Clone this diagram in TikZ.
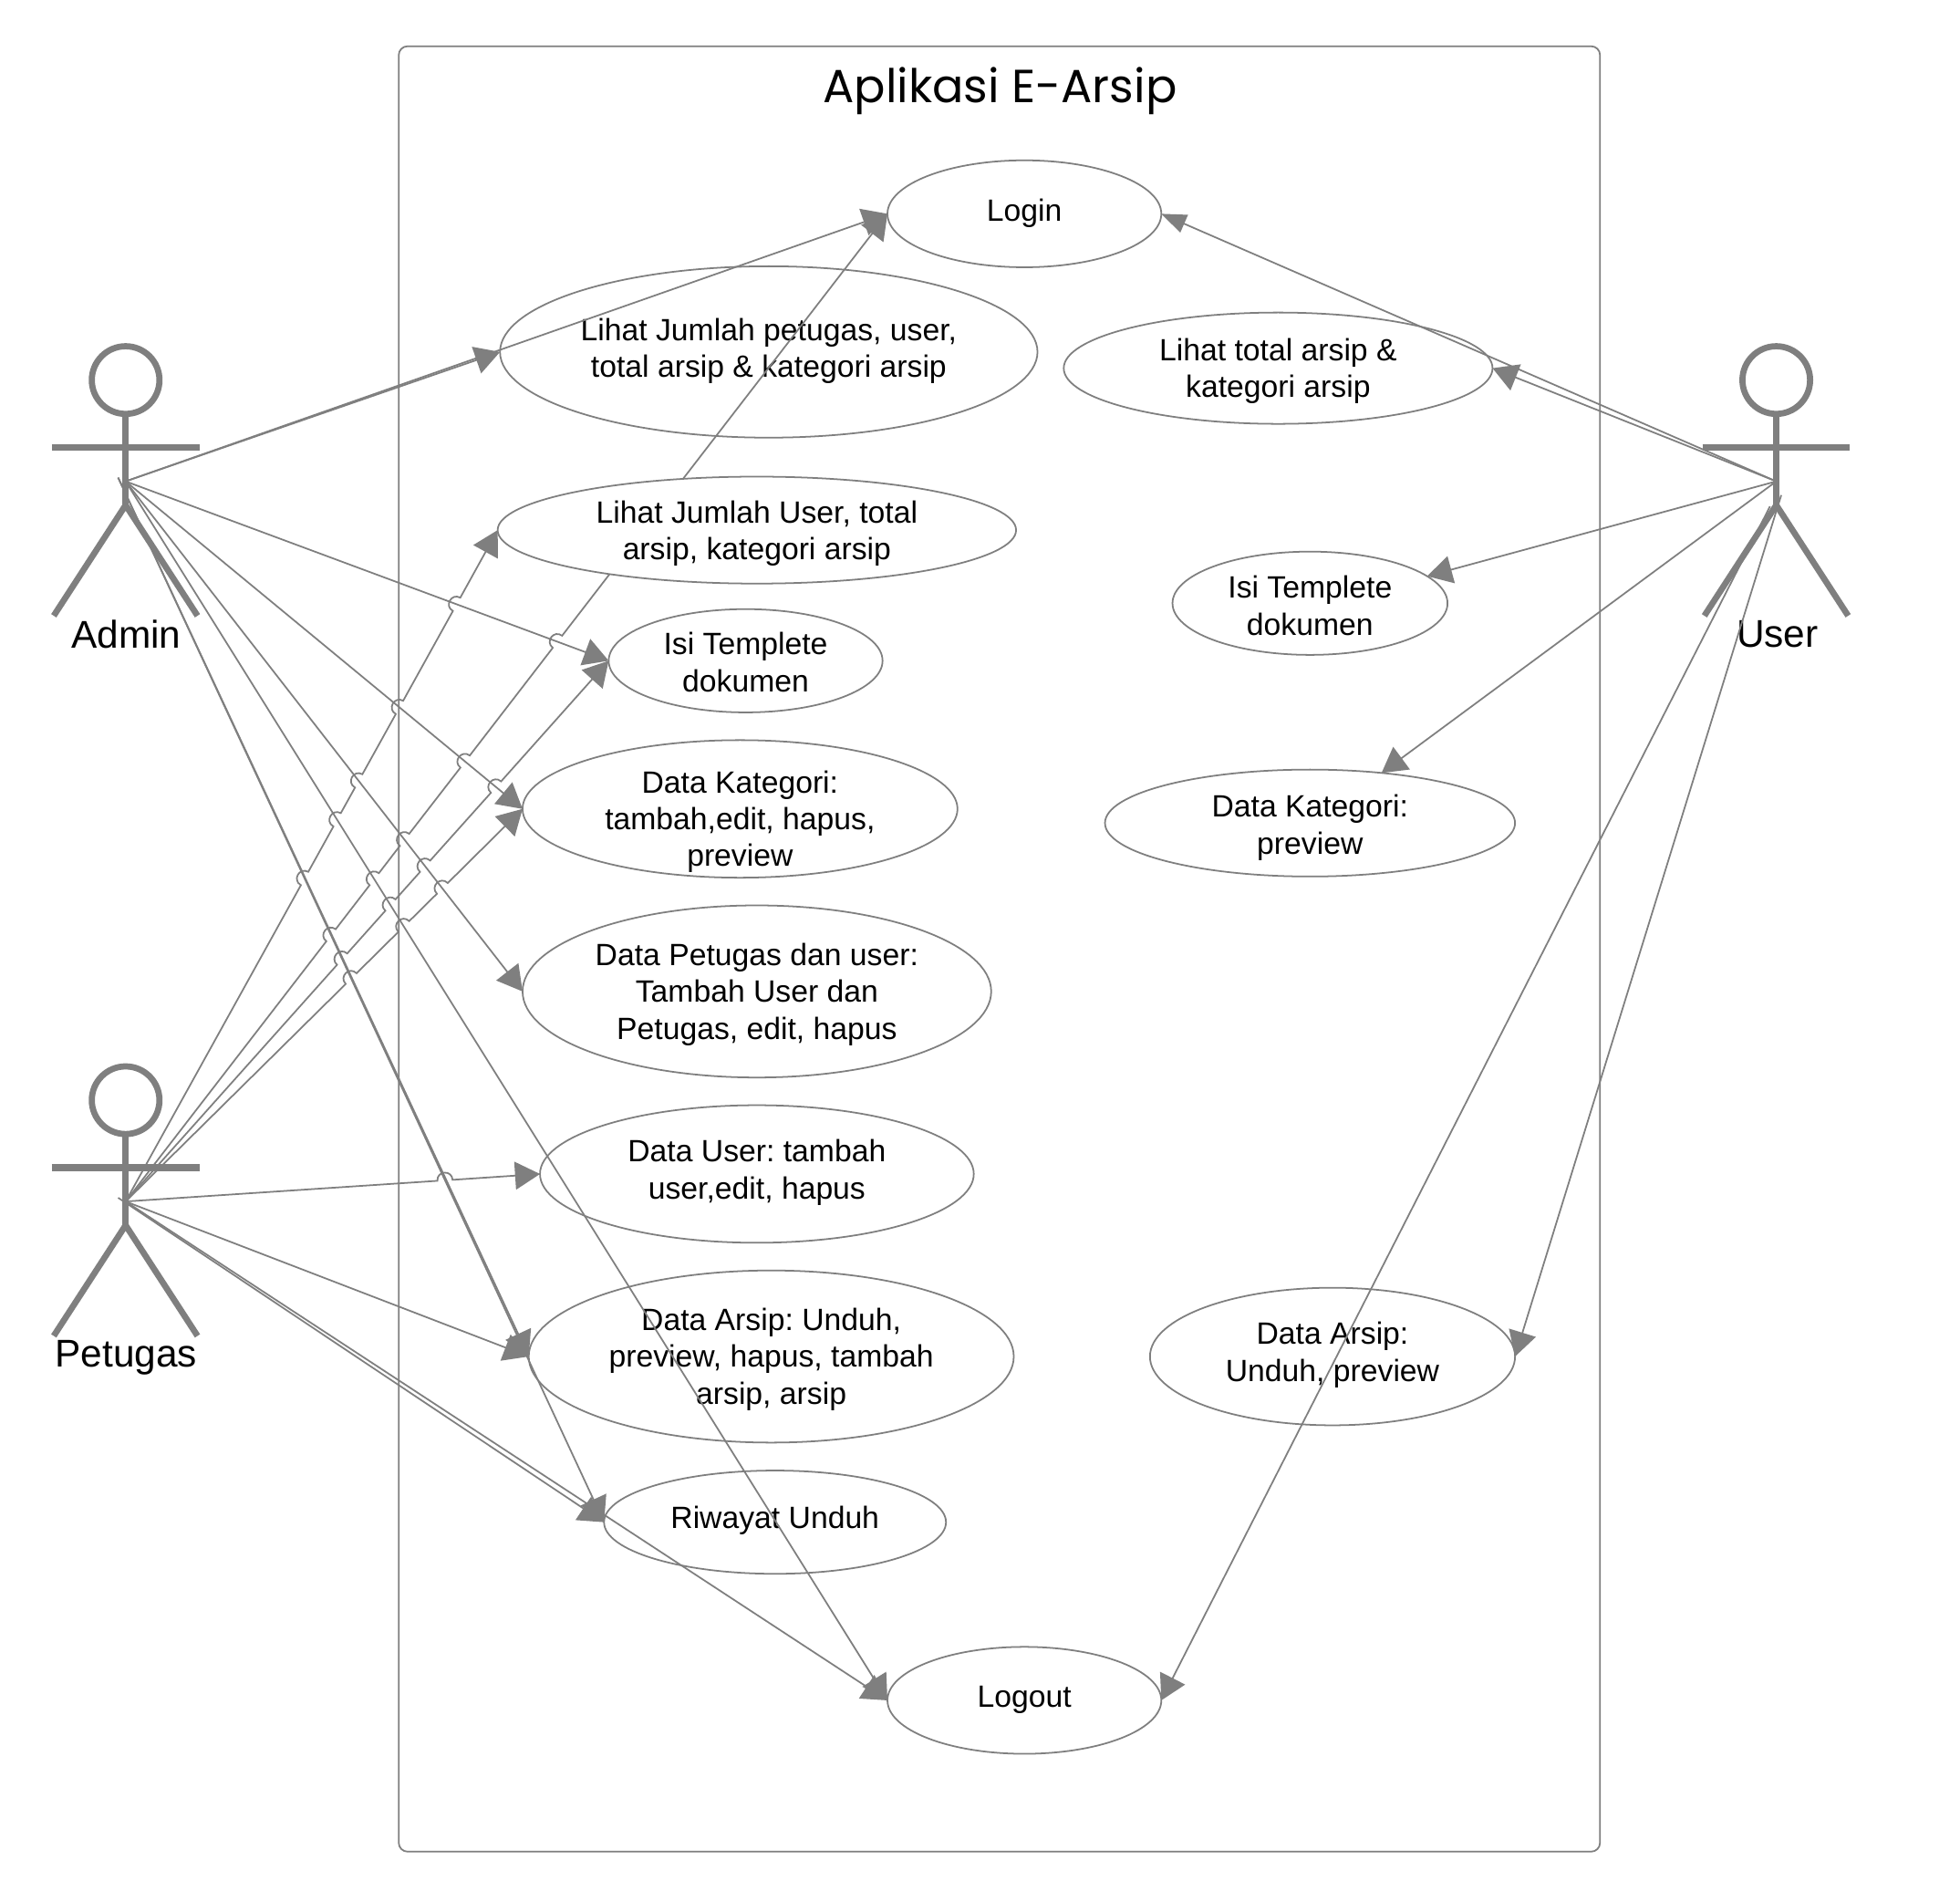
\documentclass[tikz,border=0pt]{standalone}
\usepackage{fontspec}
\setmainfont{Liberation Sans}
\newfontfamily\titlefont{Poppins}
\usetikzlibrary{arrows.meta,shapes.geometric,calc}
\pgfdeclarelayer{top}
\pgfsetlayers{main,top}
\definecolor{linegray}{HTML}{7F7F7F}
\newlength\unitpx
\setlength\unitpx{0.8536pt}
\newcommand\uctext[2]{\makebox[0pt]{\raisebox{\dimexpr #1\unitpx-7.5pt\relax}[0pt][0pt]{\fontsize{21pt}{25.2pt}\selectfont\frenchspacing\begin{tabular}{@{}c@{}}#2\end{tabular}}}}
% jump-over geometry: #1 name, #2 start, #3 end, #4 other start, #5 other end
\newcommand\xing[5]{%
  \coordinate (#1) at (intersection cs: first line={(#2)--(#3)}, second line={(#4)--(#5)});
  \coordinate (#1-a) at ($(#1)!5.2pt!(#2)$);
  \coordinate (#1-b) at ($(#1)!-5.2pt!(#2)$);
  \coordinate (#1-ca) at ($(#1-a)!7pt!90:(#1)$);
  \coordinate (#1-cb) at ($(#1-b)!7pt!-90:(#1)$);
}
\newcommand\jmp[1]{-- (#1-a) .. controls (#1-ca) and (#1-cb) .. (#1-b)}
\tikzset{
  x=0.03cm,y=-0.03cm,
  conn/.style={draw=linegray,line width=1.1pt,-{Triangle[length=17pt,width=19pt]}},
  connn/.style={draw=linegray,line width=1.1pt,-{Triangle[length=17pt,width=13pt]}},
  uc/.style={draw=linegray,fill=white,line width=1.1pt,ellipse,inner sep=0pt,outer sep=0pt},
  actorline/.style={draw=linegray,line width=4.2pt},
  actorname/.style={inner sep=0pt,font=\fontsize{26.4pt}{30pt}\selectfont},
  framebox/.style={draw=linegray,line width=1.1pt,rounded corners=6pt},
  actor/.pic={
    \node[circle,draw=linegray,line width=4.2pt,minimum size=46.2pt,inner sep=0pt,outer sep=0pt] (-head) at (0,0) {};
    \draw[actorline,line width=4.6pt] (-59,54) -- (59,54);
    \draw[actorline] (-head.south) -- (0,100);
    \draw[actorline,line join=round] (-57.5,188.5) -- (0,100) -- (57.5,188.5);
    \coordinate (-hub) at (0,81);
    \coordinate (-tick) at (-6,78);
    \coordinate (-lowa) at (4,92);
    \coordinate (-lowb) at (-5,101);
  }
}
\begin{document}
\begin{tikzpicture}
\useasboundingbox (0,0) rectangle (1568,1504);
\fill[white] (0,0) rectangle (1568,1504);
\draw[framebox] (319,37) rectangle (1280,1481);
\node[inner sep=0pt,font=\titlefont\fontsize{31.7pt}{36pt}\selectfont] (title) at (800,73) {Aplikasi E-Arsip};
% actors
\pic (admin) at (100.5,304) {actor};
\pic (petugas) at (100.5,880) {actor};
\pic (user) at (1421,304) {actor};
\node[actorname] (adminlabel) at (101,507.5) {Admin};
\node[actorname] (petugaslabel) at (101,1086) {Petugas};
\node[actorname] (userlabel) at (1422,507.5) {User};
% use cases
\node[uc,minimum width=187pt,minimum height=73pt] (login) at (819.5,171) {\uctext{3}{Login}};
\node[uc,minimum width=367pt,minimum height=117pt] (lihatall) at (615,281.5) {\uctext{3}{Lihat Jumlah petugas, user,\\total arsip \& kategori arsip}};
\node[uc,minimum width=292.8pt,minimum height=76pt] (lihattotal) at (1022.5,294.5) {\uctext{0}{Lihat total arsip \&\\kategori arsip}};
\begin{pgfonlayer}{top}
\node[uc,minimum width=354pt,minimum height=73pt] (lihatuser) at (605.5,424) {\uctext{-0.5}{Lihat Jumlah User, total\\arsip, kategori arsip}};
\end{pgfonlayer}
\node[uc,minimum width=187pt,minimum height=70.5pt] (isiL) at (596.5,528.5) {\uctext{-1.5}{Isi Templete\\dokumen}};
\node[uc,minimum width=187.8pt,minimum height=70.5pt] (isiR) at (1048,482.5) {\uctext{-2}{Isi Templete\\dokumen}};
\node[uc,minimum width=297pt,minimum height=93.9pt] (katL) at (592,647) {\uctext{-8}{Data Kategori:\\tambah,edit, hapus,\\preview}};
\node[uc,minimum width=280pt,minimum height=73pt] (katR) at (1048,658.3) {\uctext{-1.5}{Data Kategori:\\preview}};
\node[uc,minimum width=320pt,minimum height=117.5pt] (petugasdata) at (605.5,793) {\uctext{0}{Data Petugas dan user:\\Tambah User dan\\Petugas, edit, hapus}};
\node[uc,minimum width=296.2pt,minimum height=93.9pt] (userdata) at (605.5,939) {\uctext{3.5}{Data User: tambah\\user,edit, hapus}};
\node[uc,minimum width=331.2pt,minimum height=117.5pt] (arsipL) at (617,1085) {\uctext{0}{Data Arsip: Unduh,\\preview, hapus, tambah\\arsip, arsip}};
\node[uc,minimum width=249.3pt,minimum height=93.9pt] (arsipR) at (1066,1085) {\uctext{3.5}{Data Arsip:\\Unduh, preview}};
\node[uc,minimum width=233.5pt,minimum height=70.5pt] (riwayat) at (620,1217.5) {\uctext{3.5}{Riwayat Unduh}};
\node[uc,minimum width=187pt,minimum height=73pt] (logout) at (819.5,1360) {\uctext{3}{Logout}};
% crossings of Petugas lines with Admin lines
\xing{a1}{petugas-hub}{lihatuser.west}{admin-tick}{riwayat.west}
\xing{a2}{petugas-hub}{lihatuser.west}{admin-hub}{logout.west}
\xing{a3}{petugas-hub}{lihatuser.west}{admin-hub}{petugasdata.west}
\xing{a4}{petugas-hub}{lihatuser.west}{admin-hub}{katL.west}
\xing{a5}{petugas-hub}{lihatuser.west}{admin-hub}{isiL.west}
\xing{b1}{petugas-hub}{login.west}{admin-tick}{riwayat.west}
\xing{b2}{petugas-hub}{login.west}{admin-hub}{logout.west}
\xing{b3}{petugas-hub}{login.west}{admin-hub}{petugasdata.west}
\xing{b4}{petugas-hub}{login.west}{admin-hub}{katL.west}
\xing{b5}{petugas-hub}{login.west}{admin-hub}{isiL.west}
\xing{c1}{petugas-hub}{isiL.west}{admin-tick}{riwayat.west}
\xing{c2}{petugas-hub}{isiL.west}{admin-hub}{logout.west}
\xing{c3}{petugas-hub}{isiL.west}{admin-hub}{petugasdata.west}
\xing{c4}{petugas-hub}{isiL.west}{admin-hub}{katL.west}
\xing{d1}{petugas-hub}{katL.west}{admin-tick}{riwayat.west}
\xing{d2}{petugas-hub}{katL.west}{admin-hub}{logout.west}
\xing{d3}{petugas-hub}{katL.west}{admin-hub}{petugasdata.west}
\xing{e1}{petugas-hub}{userdata.west}{admin-tick}{riwayat.west}
% Admin connectors
\draw[conn] (admin-hub) -- (login.west);
\draw[conn] (admin-hub) -- (lihatall.west);
\draw[conn] (admin-hub) -- (isiL.west);
\draw[conn] (admin-hub) -- (katL.west);
\draw[conn] (admin-hub) -- (petugasdata.west);
\draw[conn] (admin-tick) -- (arsipL.west);
\draw[conn] (admin-tick) -- (riwayat.west);
\draw[conn] (admin-hub) -- (logout.west);
% Petugas connectors
\draw[conn] (petugas-hub) \jmp{b1} \jmp{b2} \jmp{b3} \jmp{b4} \jmp{b5} -- (login.west);
\draw[conn] (petugas-hub) \jmp{a1} \jmp{a2} \jmp{a3} \jmp{a4} \jmp{a5} -- (lihatuser.west);
\draw[conn] (petugas-hub) \jmp{c1} \jmp{c2} \jmp{c3} \jmp{c4} -- (isiL.west);
\draw[conn] (petugas-hub) \jmp{d1} \jmp{d2} \jmp{d3} -- (katL.west);
\draw[conn] (petugas-hub) \jmp{e1} -- (userdata.west);
\draw[conn] (petugas-hub) -- (arsipL.west);
\draw[conn] (petugas-tick) -- (riwayat.west);
\draw[conn] (petugas-hub) -- (logout.west);
% User connectors
\draw[connn] (user-hub) -- (login.east);
\draw[conn] (user-hub) -- (lihattotal.east);
\draw[conn] (user-hub) -- (isiR.13);
\draw[conn] (user-hub) -- (katR.35);
\draw[conn] (user-lowa) -- (arsipR.east);
\draw[conn] (user-lowb) -- (logout.east);
\end{tikzpicture}
\end{document}
